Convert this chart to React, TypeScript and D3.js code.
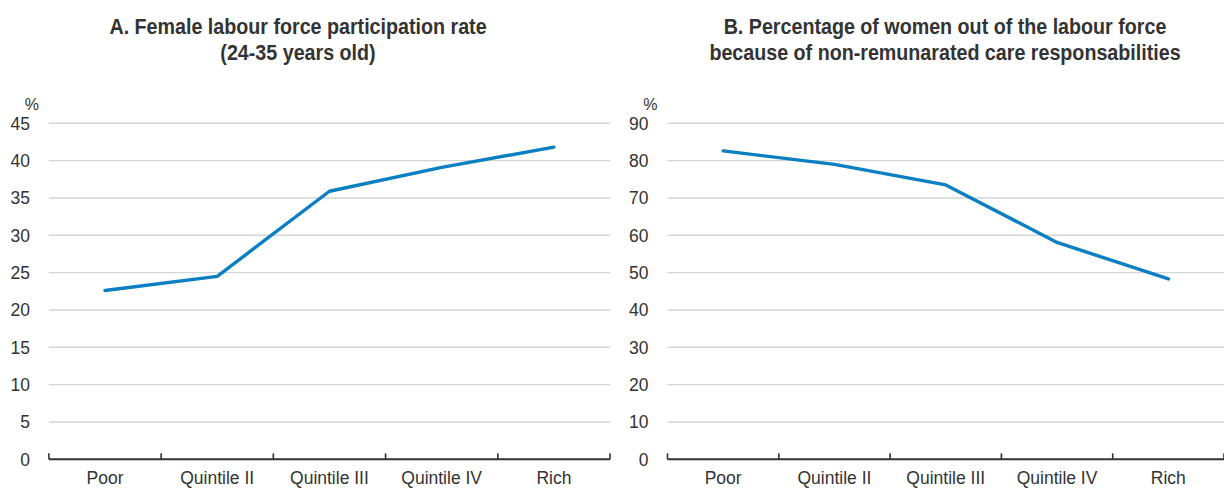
import { useEffect } from "react"
import * as d3 from "d3"

const categories = ["Poor", "Quintile II", "Quintile III", "Quintile IV", "Rich"]
const participationRate = [22.6, 24.5, 35.9, 39.1, 41.8]
const outOfLabourCare = [82.6, 79.0, 73.5, 58.1, 48.3]
const ticksA = [0, 5, 10, 15, 20, 25, 30, 35, 40, 45]
const ticksB = [0, 10, 20, 30, 40, 50, 60, 70, 80, 90]
const titleA = ["A. Female labour force participation rate", "(24-35 years old)"]
const titleB = ["B. Percentage of women out of the labour force", "because of non-remunarated care responsabilities"]

const FONT = "'Liberation Sans', Arial, sans-serif"
const TEXT = "#333333"
const BLUE = "#0a7fc2"

interface PanelProps {
  title: string[]
  values: number[]
  ticks: number[]
  x0: number
  x1: number
  titleX: number
}

function Panel({ title, values, ticks, x0, x1, titleX }: PanelProps) {
  const top = 123.3
  const bottom = 459.3

  const x = d3.scaleBand<string>().domain(categories).range([x0, x1]).padding(0)
  const y = d3.scaleLinear().domain([0, ticks[ticks.length - 1]]).range([bottom, top])

  const line = d3.line<number>()
    .x((_, i) => (x(categories[i]) ?? 0) + x.bandwidth() / 2)
    .y(d => y(d))

  const boundaries = categories.map(c => x(c) ?? 0).concat([x1])

  return (
    <g>
      {/* condensed bold title, like the source's narrow face */}
      {title.map((t, i) => (
        <text key={i} transform={`translate(${titleX},${34 + i * 26}) scale(0.875,1)`}
          textAnchor="middle" fontFamily={FONT} fontWeight="bold" fontSize={22.5} fill={TEXT}>{t}</text>
      ))}
      <text x={x0 - 10} y={110} textAnchor="end" fontFamily={FONT} fontSize={16} fill={TEXT}>%</text>
      {ticks.map(t => (
        <g key={t}>
          {t > 0 && (
            <line x1={x0} x2={x1} y1={y(t)} y2={y(t)} stroke="#d5d5d5" strokeWidth={1.4} />
          )}
          <text x={x0 - 19} y={y(t) + 6.5} textAnchor="end" fontFamily={FONT} fontSize={17.5} fill={TEXT}>{t}</text>
        </g>
      ))}
      <line x1={x0} x2={x1} y1={bottom} y2={bottom} stroke="#333" strokeWidth={2} />
      {boundaries.map((b, i) => (
        <line key={i} x1={b} x2={b} y1={bottom} y2={bottom - 6} stroke="#333" strokeWidth={1.6} />
      ))}
      {categories.map(c => (
        <text key={c} x={(x(c) ?? 0) + x.bandwidth() / 2} y={484} textAnchor="middle"
          fontFamily={FONT} fontSize={17.5} fill={TEXT}>{c}</text>
      ))}
      <path d={line(values) ?? ""} fill="none" stroke={BLUE} strokeWidth={3.4}
        strokeLinejoin="round" strokeLinecap="round" />
    </g>
  )
}

export default function App() {
  useEffect(() => {
    document.body.style.margin = "0"
  }, [])

  return (
    <svg width={1224} height={488} style={{ display: "block", background: "#fff" }}>
      <Panel title={titleA} values={participationRate} ticks={ticksA} x0={48.9} x1={610} titleX={298} />
      <Panel title={titleB} values={outOfLabourCare} ticks={ticksB} x0={667.5} x1={1224} titleX={945} />
    </svg>
  )
}
